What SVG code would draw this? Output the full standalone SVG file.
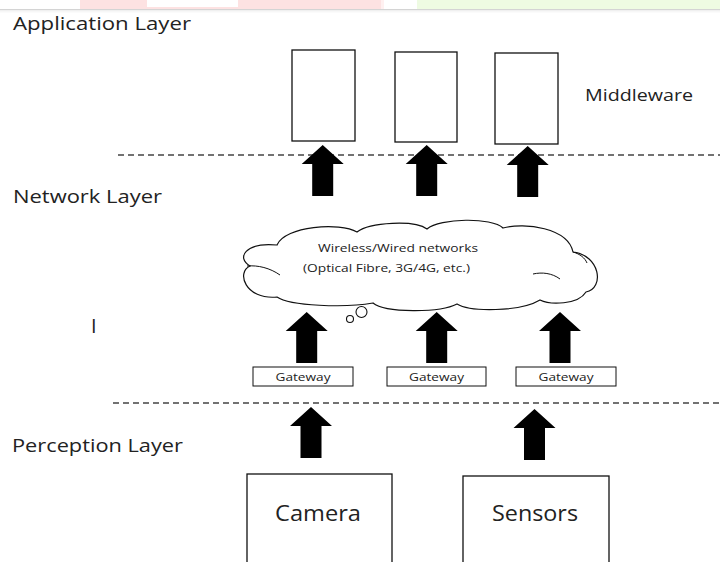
<svg xmlns="http://www.w3.org/2000/svg" width="720" height="562" viewBox="0 0 720 562">
<style>
.lbl{font-family:"Open Sans","Liberation Sans",sans-serif;fill:#222}
.box{fill:#fff;stroke:#111;stroke-width:1.3}
.gw{fill:#fff;stroke:#111;stroke-width:1}
.dash{stroke:#444;stroke-width:1.3;stroke-dasharray:6 4;fill:none}
.arrow{fill:#000}
.cloud{fill:#fff;stroke:#111;stroke-width:1.2}
</style>
<defs>
<path id="arr" d="M0,0 L21,19 L10.5,19 L10.5,51 L-10.5,51 L-10.5,19 L-21,19 Z"/>
</defs>
<rect width="720" height="562" fill="#fff"/>
<g id="topband">
<rect x="80" y="0" width="301" height="9" fill="#fde2e2"/>
<rect x="147" y="0" width="91" height="7" fill="#fff"/>
<rect x="381" y="0" width="3" height="9" fill="#fff0f0"/>
<rect x="417" y="0" width="303" height="9" fill="#eefbe2"/>
<rect x="0" y="9" width="720" height="1.5" fill="#d4d4d4"/>
<rect x="0" y="10.5" width="720" height="2" fill="#f7f7f7"/>
</g>
<g id="layer-labels">
<text class="lbl" x="13" y="30" font-size="17.5" textLength="178" lengthAdjust="spacingAndGlyphs">Application Layer</text>
<text class="lbl" x="13" y="203" font-size="17.5" textLength="149" lengthAdjust="spacingAndGlyphs">Network Layer</text>
<text class="lbl" x="12" y="452" font-size="17.5" textLength="171" lengthAdjust="spacingAndGlyphs">Perception Layer</text>
<text class="lbl" x="91" y="333" font-size="20">I</text>
</g>
<g id="middleware-1"><rect class="box" x="292" y="50" width="63" height="91"/></g>
<g id="middleware-2"><rect class="box" x="395" y="52" width="62" height="90"/></g>
<g id="middleware-3"><rect class="box" x="495" y="53" width="63" height="91"/></g>
<g id="middleware-label"><text class="lbl" x="585" y="101" font-size="15.4" textLength="108" lengthAdjust="spacingAndGlyphs">Middleware</text></g>
<g id="cloud">
<path class="cloud" d="M277,245 C285,226 340,222 357,232 C370,222 415,220 427,229 C440,218 492,217 503,228 C525,222 568,228 573,252 C600,255 605,288 586,292 C578,305 550,305 540,300 C520,312 470,312 457,304 C440,313 385,313 373,303 C345,308 290,306 277,297 C245,300 236,272 250,266 C236,258 245,242 277,245 Z"/>
<path fill="none" stroke="#111" stroke-width="1" d="M573,252 C580,254 585,258 587,263 M533,274 C542,272 552,273 560,279 M247,266 C258,265 270,268 280,275"/>
<circle cx="361.5" cy="312" r="5.5" fill="#fff" stroke="#111" stroke-width="1.1"/>
<circle cx="350" cy="319" r="3.5" fill="#fff" stroke="#111" stroke-width="1.1"/>
<text class="lbl" x="318" y="252.3" font-size="11" textLength="160" lengthAdjust="spacingAndGlyphs">Wireless/Wired networks</text>
<text class="lbl" x="303" y="272.3" font-size="11" textLength="167" lengthAdjust="spacingAndGlyphs">(Optical Fibre, 3G/4G, etc.)</text>
</g>
<g id="gateway-1"><rect class="gw" x="253" y="367" width="100" height="19"/><text class="lbl" x="303" y="380.5" font-size="11" text-anchor="middle" textLength="55" lengthAdjust="spacingAndGlyphs">Gateway</text></g>
<g id="gateway-2"><rect class="gw" x="387" y="367" width="99" height="19"/><text class="lbl" x="436.5" y="380.5" font-size="11" text-anchor="middle" textLength="55" lengthAdjust="spacingAndGlyphs">Gateway</text></g>
<g id="gateway-3"><rect class="gw" x="516" y="367" width="100" height="19"/><text class="lbl" x="566" y="380.5" font-size="11" text-anchor="middle" textLength="55" lengthAdjust="spacingAndGlyphs">Gateway</text></g>
<g id="camera"><rect class="box" x="247" y="474" width="145" height="100"/><text class="lbl" x="318" y="521" font-size="22" text-anchor="middle" textLength="86" lengthAdjust="spacingAndGlyphs">Camera</text></g>
<g id="sensors"><rect class="box" x="463" y="476" width="146" height="100"/><text class="lbl" x="535" y="521" font-size="22" text-anchor="middle" textLength="86" lengthAdjust="spacingAndGlyphs">Sensors</text></g>
<g id="connectors">
<line class="dash" x1="118" y1="155" x2="720" y2="155"/>
<line class="dash" x1="113" y1="403" x2="720" y2="403"/>
<use href="#arr" class="arrow" x="322.7" y="145"/>
<use href="#arr" class="arrow" x="426.7" y="145"/>
<use href="#arr" class="arrow" x="527.7" y="146"/>
<use href="#arr" class="arrow" x="306.7" y="312"/>
<use href="#arr" class="arrow" x="436.7" y="312"/>
<use href="#arr" class="arrow" x="560" y="312"/>
<use href="#arr" class="arrow" x="311" y="407"/>
<use href="#arr" class="arrow" x="534.5" y="409"/>
</g>
</svg>
